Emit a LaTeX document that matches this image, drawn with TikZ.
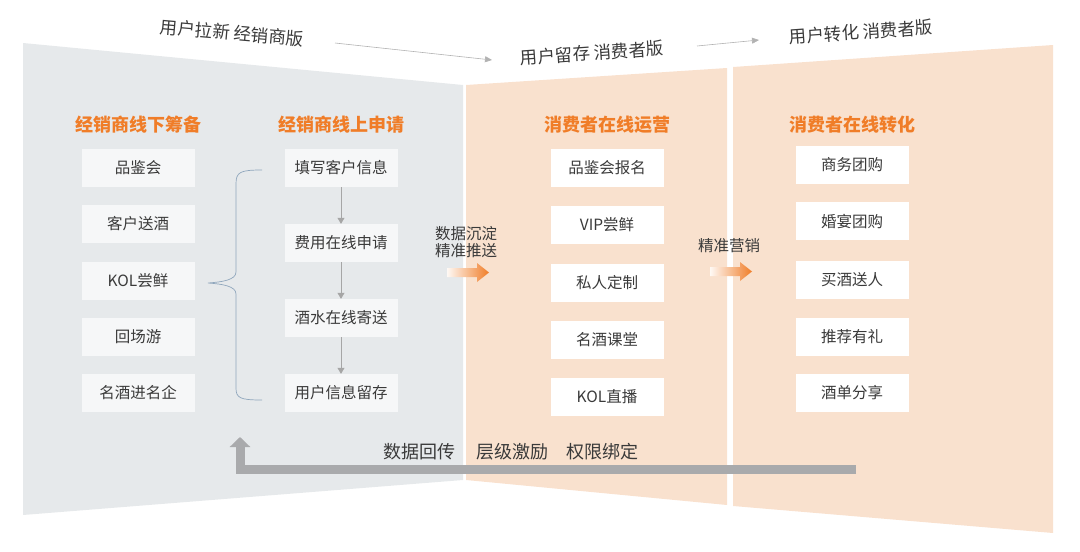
\documentclass[tikz,border=0pt]{standalone}
\usepackage{fontspec}
\setmainfont{Noto Sans CJK SC}
\usetikzlibrary{arrows.meta}
\definecolor{panelgray}{HTML}{E6E9EB}
\definecolor{panelpeach}{HTML}{F9E1CE}
\definecolor{boxgray}{HTML}{F6F7F8}
\definecolor{titleorange}{HTML}{F07D28}
\definecolor{textdark}{HTML}{3A3A3A}
\definecolor{returngray}{HTML}{A9AAAC}
\definecolor{bracecol}{HTML}{8FA6BC}

\begin{document}
\begin{tikzpicture}[x=1pt, y=-1pt,
    itembox/.style={fill=white, minimum width=113pt, minimum height=38pt, inner sep=0pt,
        font=\fontsize{15.5}{18}\selectfont, text=textdark},
    graybox/.style={itembox, fill=boxgray},
    coltitle/.style={font=\fontsize{18}{20}\selectfont\bfseries, text=titleorange},
    toplabel/.style={font=\fontsize{17.5}{20}\selectfont, text=textdark},
    sidelabel/.style={font=\fontsize{15.5}{17}\selectfont, text=textdark, align=center},
    flowarrow/.style={draw=gray!70, line width=0.6pt, -{Triangle[width=7pt,length=6pt]}},
    toparrow/.style={draw=gray!60, line width=0.6pt, -{Triangle[width=6pt,length=7pt]}}]
    \useasboundingbox (0,0) rectangle (1080,552);

    % panels
    \fill[panelgray] (23,43) -- (463,85) -- (463,480) -- (23,515) -- cycle;
    \fill[panelpeach] (466,85) -- (727,68) -- (727,505) -- (466,480) -- cycle;
    \fill[panelpeach] (733,67) -- (1053,45) -- (1053,533) -- (733,506) -- cycle;

    % stage labels on top
    \node[toplabel, rotate=-5] (stage1) at (232,33) {用户拉新 经销商版};
    \node[toplabel, rotate=4] (stage2) at (592,53) {用户留存 消费者版};
    \node[toplabel, rotate=4] (stage3) at (861,32) {用户转化 消费者版};
    \coordinate (s1a) at (335,43);
    \coordinate (s1b) at (492,60);
    \coordinate (s2a) at (697,46);
    \coordinate (s2b) at (759,40);
    \draw[toparrow] (s1a) -- (s1b);
    \draw[toparrow] (s2a) -- (s2b);

    % column titles
    \node[coltitle] (t1) at (138,125) {经销商线下筹备};
    \node[coltitle] (t2) at (341,125) {经销商线上申请};
    \node[coltitle] (t3) at (607,125) {消费者在线运营};
    \node[coltitle] (t4) at (852,125) {消费者在线转化};

    % offline column
    \node[graybox] (a1) at (138,168) {品鉴会};
    \node[graybox] (a2) at (138,224) {客户送酒};
    \node[graybox] (a3) at (138,281) {KOL尝鲜};
    \node[graybox] (a4) at (138,337) {回场游};
    \node[graybox] (a5) at (138,393) {名酒进名企};

    % online application column
    \node[graybox] (b1) at (341,168) {填写客户信息};
    \node[graybox] (b2) at (341,243) {费用在线申请};
    \node[graybox] (b3) at (341,318) {酒水在线寄送};
    \node[graybox] (b4) at (341,393) {用户信息留存};
    \draw[flowarrow] (b1) -- (b2);
    \draw[flowarrow] (b2) -- (b3);
    \draw[flowarrow] (b3) -- (b4);

    % brace
    \coordinate (brtop) at (262,170);
    \coordinate (brtip) at (208,283);
    \coordinate (brbot) at (262,400);
    \draw[bracecol, line width=0.7pt]
        (brtop) .. controls (240,170) and (236,172) .. (236,184) -- (236,272)
        .. controls (236,280) and (222,282) .. (brtip)
        .. controls (222,284) and (236,286) .. (236,294) -- (236,388)
        .. controls (236,398) and (240,400) .. (brbot);

    % consumer operation column
    \node[itembox] (c1) at (607,168) {品鉴会报名};
    \node[itembox] (c2) at (607,225) {VIP尝鲜};
    \node[itembox] (c3) at (607,283) {私人定制};
    \node[itembox] (c4) at (607,340) {名酒课堂};
    \node[itembox] (c5) at (607,397) {KOL直播};

    % consumer conversion column
    \node[itembox] (d1) at (852,165) {商务团购};
    \node[itembox] (d2) at (852,221) {婚宴团购};
    \node[itembox] (d3) at (852,280) {买酒送人};
    \node[itembox] (d4) at (852,337) {推荐有礼};
    \node[itembox] (d5) at (852,393) {酒单分享};

    % orange arrows between panels
    \node[sidelabel] (push) at (466,242) {数据沉淀\\精准推送};
    \shade[left color=titleorange!5, right color=titleorange]
        (447,268) -- (477,268) -- (477,263) -- (489,272.5) -- (477,282) -- (477,277) -- (447,277) -- cycle;
    \node[sidelabel] (mkt) at (729,246) {精准营销};
    \shade[left color=titleorange!5, right color=titleorange]
        (710,267) -- (740,267) -- (740,262) -- (752,271.5) -- (740,281) -- (740,276) -- (710,276) -- cycle;

    % return arrow
    \node[toplabel, font=\fontsize{18}{20}\selectfont] (back) at (511,452)
        {数据回传\hspace{22pt}层级激励\hspace{18pt}权限绑定};
    \coordinate (ret0) at (856,469);
    \coordinate (ret1) at (240,469);
    \coordinate (ret2) at (240,437);
    \draw[returngray, line width=9pt, -{Triangle[width=20pt,length=10pt]}]
        (ret0) -- (ret1) -- (ret2);
\end{tikzpicture}
\end{document}
